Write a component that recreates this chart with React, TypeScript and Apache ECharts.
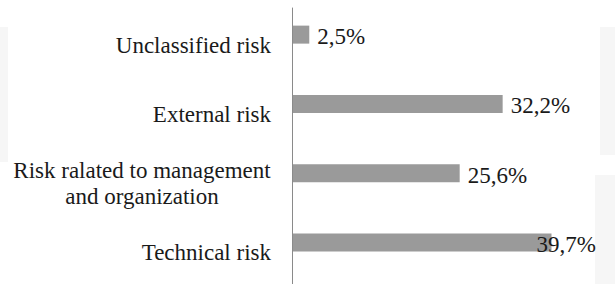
import React, { useEffect, useRef } from "react";
import * as echarts from "echarts";

// top-to-bottom order
const categories = [
  "Unclassified risk",
  "External risk",
  "Risk ralated to management\nand organization",
  "Technical risk",
];
const values = [2.5, 32.2, 25.6, 39.7];
const valueLabels = ["2,5%", "32,2%", "25,6%", "39,7%"];

const FONT = "Liberation Serif";
const TEXT = "#1a1a1a";

export default function App() {
  const ref = useRef<HTMLDivElement>(null);

  useEffect(() => {
    document.body.style.margin = "0";
    const chart = echarts.init(ref.current!, null, { renderer: "svg" });
    const lineStyle = { fontSize: 23, fontFamily: FONT, color: TEXT, lineHeight: 26 };
    chart.setOption({
      animation: false,
      backgroundColor: "#ffffff",
      graphic: [
        { type: "rect", shape: { x: 0, y: 27, width: 8, height: 135 }, style: { fill: "#f6f6f6" }, silent: true, z: -10 },
        { type: "rect", shape: { x: 600, y: 27, width: 15, height: 128 }, style: { fill: "#f6f6f6" }, silent: true, z: -10 },
        { type: "rect", shape: { x: 595, y: 175, width: 20, height: 109 }, style: { fill: "#f6f6f6" }, silent: true, z: -10 },
      ],
      grid: [
        { left: 293, right: 29, top: -3, height: 280 },
        { left: 292, width: 10, top: 8, bottom: 0 },
      ],
      xAxis: [
        { type: "value", gridIndex: 0, min: 0, max: 45, show: false },
        { type: "value", gridIndex: 1, min: 0, max: 1, show: false },
      ],
      yAxis: [
        {
          type: "category",
          gridIndex: 0,
          inverse: true,
          data: categories,
          axisLine: { show: false },
          axisTick: { show: false },
          splitLine: { show: false },
          axisLabel: {
            margin: 22,
            padding: [21, 0, 0, 0],
            formatter: (v: string) => {
              const lines = v.split("\n");
              if (lines.length === 1) return v;
              return lines.map((l) => `{a|${l}}`).join("\n");
            },
            rich: {
              a: { ...lineStyle, width: 258, align: "center" },
            },
            ...lineStyle,
            align: "right",
          },
        },
        {
          type: "category",
          gridIndex: 1,
          data: ["", "", "", ""],
          axisLine: { show: true, lineStyle: { color: "#8a8a8a", width: 1 } },
          axisTick: { show: false },
          axisLabel: { show: false },
          splitLine: { show: false },
        },
      ],
      series: [
        {
          type: "bar",
          xAxisIndex: 0,
          yAxisIndex: 0,
          barWidth: 18,
          itemStyle: { color: "#9a9a9a" },
          data: values.map((v, i) => ({
            value: v,
            label: i === 3 ? { offset: [-23, 2] } : undefined,
          })),
          label: {
            show: true,
            position: "right",
            distance: 8,
            offset: [0, 2],
            fontSize: 23,
            fontFamily: FONT,
            color: TEXT,
            formatter: (p: any) => valueLabels[p.dataIndex],
          },
        },
      ],
    });
    return () => chart.dispose();
  }, []);

  return <div ref={ref} style={{ width: 615, height: 284 }} />;
}
